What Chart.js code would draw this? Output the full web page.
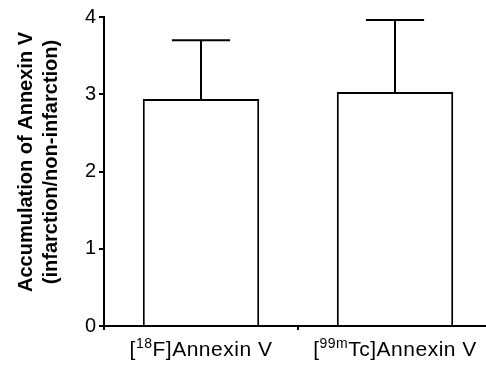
<!DOCTYPE html>
<html>
<head>
<meta charset="utf-8">
<script src="https://cdn.jsdelivr.net/npm/chart.js@4"></script>
<style>
  html, body { margin: 0; padding: 0; background: #fff; overflow: hidden; }
  #wrap { width: 496px; height: 366px; }
</style>
</head>
<body>
<div id="wrap"><canvas id="myChart"></canvas></div>
<script>
// data
const labels = [['18', 'F'], ['99m', 'Tc']]   // [superscript, element]
const means = [2.94, 3.03]
const errors = [0.76, 0.93]
const yTicks = [0, 1, 2, 3, 4]
const yTitle = ['Accumulation of Annexin V', '(infarction/non-infarction)']

const FONT = 'Liberation Sans, Arial, sans-serif'

// error bars, upper side only
const errorBars = {
  id: 'errorBars',
  afterDatasetsDraw(chart) {
    const ctx = chart.ctx
    const y = chart.scales.y
    const meta = chart.getDatasetMeta(0)
    ctx.save()
    ctx.strokeStyle = '#000'
    ctx.lineWidth = 2
    meta.data.forEach((bar, i) => {
      const top = y.getPixelForValue(means[i] + errors[i])
      const base = y.getPixelForValue(means[i])
      const half = bar.width / 4
      ctx.beginPath()
      ctx.moveTo(bar.x, base)
      ctx.lineTo(bar.x, top)
      ctx.moveTo(bar.x - half, top)
      ctx.lineTo(bar.x + half, top)
      ctx.stroke()
    })
    ctx.restore()
  }
}

// x labels with superscripts, and the rotated y title
const textLayer = {
  id: 'textLayer',
  afterDraw(chart) {
    const ctx = chart.ctx
    const x = chart.scales.x
    ctx.save()
    ctx.fillStyle = '#000'
    ctx.textBaseline = 'alphabetic'
    ctx.letterSpacing = '0.5px'
    labels.forEach((l, i) => {
      const big = '21px ' + FONT
      const small = '14px ' + FONT
      ctx.font = big
      const w1 = ctx.measureText('[').width
      const w3 = ctx.measureText(l[1] + ']Annexin V').width
      ctx.font = small
      const w2 = ctx.measureText(l[0]).width
      let cx = x.getPixelForValue(i) - (w1 + w2 + w3) / 2
      const base = 356
      ctx.textAlign = 'left'
      ctx.font = big
      ctx.fillText('[', cx, base)
      cx += w1
      ctx.font = small
      ctx.fillText(l[0], cx, base - 8)
      cx += w2
      ctx.font = big
      ctx.fillText(l[1] + ']Annexin V', cx, base)
    })
    ctx.letterSpacing = '0px'
    ctx.translate(0, 162)
    ctx.rotate(-Math.PI / 2)
    ctx.textAlign = 'center'
    ctx.font = 'bold 20px ' + FONT
    ctx.fillText(yTitle[0], 0, 32)
    ctx.fillText(yTitle[1], 0, 57)
    ctx.restore()
  }
}

new Chart(document.getElementById('myChart'), {
  type: 'bar',
  data: {
    labels: labels.map(l => '[' + l[0] + l[1] + ']Annexin V'),
    datasets: [{
      data: means,
      backgroundColor: '#fff',
      borderColor: '#000',
      borderWidth: 2,
      borderSkipped: 'bottom',
      barPercentage: 0.6,
      categoryPercentage: 1
    }]
  },
  options: {
    responsive: true,
    maintainAspectRatio: false,
    animation: false,
    layout: { padding: { top: 17, right: 4, left: 0, bottom: 0 } },
    plugins: { legend: { display: false }, tooltip: { enabled: false } },
    scales: {
      y: {
        min: 0,
        max: 4,
        afterFit(s) { s.width = 104 },
        afterBuildTicks(s) { s.ticks = yTicks.map(v => ({ value: v })) },
        ticks: { color: '#000', font: { family: FONT, size: 20 }, padding: 3 },
        grid: { drawOnChartArea: false, drawTicks: true, tickLength: 5, color: '#000', lineWidth: 2 },
        border: { color: '#000', width: 2 }
      },
      x: {
        afterFit(s) { s.height = 40 },
        ticks: { display: false },
        grid: { drawOnChartArea: false, drawTicks: true, tickLength: 4, color: '#000', lineWidth: 2, offset: true },
        border: { color: '#000', width: 2 }
      }
    }
  },
  plugins: [errorBars, textLayer]
})
</script>
</body>
</html>
